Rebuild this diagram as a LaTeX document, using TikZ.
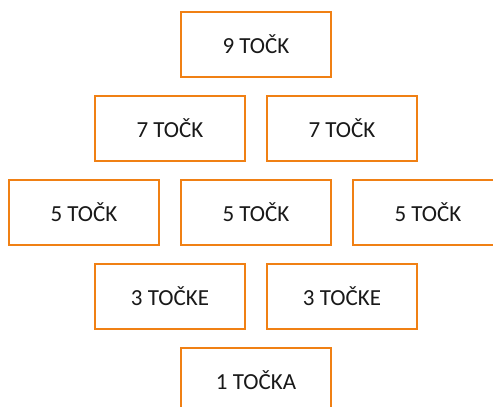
\documentclass[tikz,border=0pt]{standalone}
\usepackage{fontspec}
\setmainfont{Carlito}
\usetikzlibrary{positioning}
\definecolor{boxorange}{RGB}{240,128,20}

\begin{document}
\begin{tikzpicture}[%
    node distance=8.5pt and 10pt,
    pointbox/.style={rectangle, align=center, draw=boxorange, line width=1pt, fill=white, minimum width=75pt, minimum height=32.5pt, font=\fontsize{11.5}{14}\selectfont, text=black!90}
]
\useasboundingbox (-128pt,22.25pt) rectangle (118.5pt,-181.25pt);

% Top
\node[pointbox]      (nine)                                 {9 TOČK};

% Row 2
\node[pointbox]      (sevenleft)  [below=of nine, xshift=-43pt]      {7 TOČK};
\node[pointbox]      (sevenright) [right=of sevenleft]               {7 TOČK};

% Row 3
\node[pointbox]      (fivemid)    [below=of sevenleft, xshift=43pt]  {5 TOČK};
\node[pointbox]      (fiveleft)   [left=of fivemid]                  {5 TOČK};
\node[pointbox]      (fiveright)  [right=of fivemid]                 {5 TOČK};

% Row 4
\node[pointbox]      (threeleft)  [below=of fivemid, xshift=-43pt]   {3 TOČKE};
\node[pointbox]      (threeright) [right=of threeleft]               {3 TOČKE};

% Bottom
\node[pointbox]      (one)        [below=of threeleft, xshift=43pt]  {1 TOČKA};

\end{tikzpicture}
\end{document}
